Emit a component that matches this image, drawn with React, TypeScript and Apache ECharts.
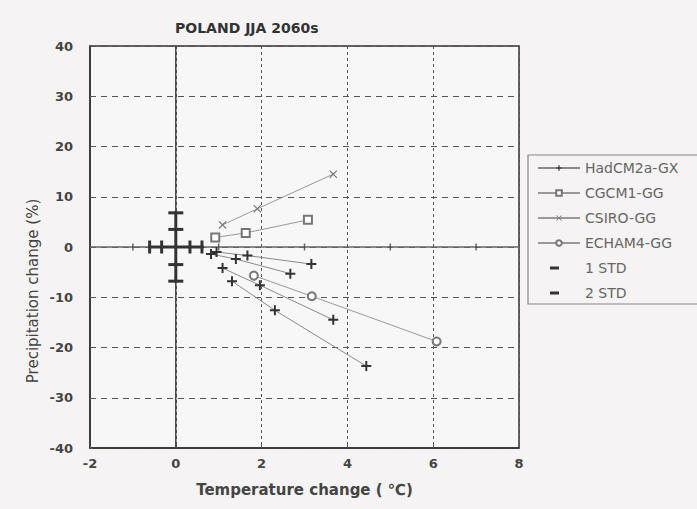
import React, { useEffect, useRef } from "react";
import * as echarts from "echarts";

const titleText = "POLAND JJA 2060s";
const xRange = [-2, 8];
const yRange = [-40, 40];
const xInterval = 2;
const yInterval = 10;
const xMinorTicks = [-1, 1, 3, 5, 7];

// HadCM2 ensemble lines (low, mid, high sensitivity)
const hadA = [[0.95, -1.0], [1.67, -1.7], [3.16, -3.4]];
const hadB = [[0.82, -1.4], [1.4, -2.4], [2.67, -5.3]];
const hadC = [[1.09, -4.2], [1.96, -7.6], [3.67, -14.5]];
const hadD = [[1.31, -6.8], [2.31, -12.6], [4.44, -23.7]];
const cgcm1 = [[0.92, 1.9], [1.63, 2.8], [3.08, 5.4]];
const csiro = [[1.09, 4.4], [1.9, 7.6], [3.67, 14.5]];
const echam4 = [[1.82, -5.7], [3.17, -9.8], [6.08, -18.8]];

// natural variability (temperature, precipitation)
const stdTemp = [0.33, 0.61];
const stdPrecip = [3.5, 6.8];

const seriesNames = ["HadCM2a-GX", "CGCM1-GG", "CSIRO-GG", "ECHAM4-GG", "1 STD", "2 STD"];

const plusPath = "path://M4,0H6V4H10V6H6V10H4V6H0V4H4Z";
const crossPath = "path://M0,1L1,0L5,4L9,0L10,1L6,5L10,9L9,10L5,6L1,10L0,9L4,5Z";
const dashIcon = "path://M0,0M42,7M12,2H21V5H12Z";

export default function App() {
  const ref = useRef<HTMLDivElement>(null);
  useEffect(() => {
    if (!ref.current) return;
    const chart = echarts.init(ref.current, null, { renderer: "svg" });
    const font = "'DejaVu Sans', Arial, sans-serif";

    const hadSeries = [hadA, hadB, hadC, hadD].map((d) => ({
      name: seriesNames[0],
      type: "line",
      data: d,
      symbol: plusPath,
      symbolSize: 10,
      itemStyle: { color: "#333" },
      lineStyle: { color: "#8a8a8a", width: 1 },
      z: 5,
    }));

    const renderStd = (params: any, api: any) => {
      const cx = api.value(0), cy = api.value(1), dx = api.value(2), dy = api.value(3), full = api.value(4);
      const l = api.coord([cx - dx, cy]);
      const r = api.coord([cx + dx, cy]);
      const t = api.coord([cx, cy + dy]);
      const b = api.coord([cx, cy - dy]);
      const st = { stroke: "#333", lineWidth: 3 };
      const children: any[] = [];
      if (full) {
        children.push({ type: "line", shape: { x1: l[0] - 1.5, y1: l[1], x2: r[0] + 1.5, y2: r[1] }, style: st });
        children.push({ type: "line", shape: { x1: t[0], y1: t[1] - 1.5, x2: b[0], y2: b[1] + 1.5 }, style: st });
      }
      [l, r].forEach((p) => children.push({ type: "line", shape: { x1: p[0], y1: p[1] - 6.5, x2: p[0], y2: p[1] + 6.5 }, style: st }));
      [t, b].forEach((p) => children.push({ type: "line", shape: { x1: p[0] - 7.5, y1: p[1], x2: p[0] + 7.5, y2: p[1] }, style: st }));
      return { type: "group", children };
    };

    chart.setOption({
      animation: false,
      backgroundColor: "#f5f3f3",
      title: {
        text: titleText,
        left: 170,
        top: 16,
        textStyle: { fontSize: 14, fontWeight: "bold", color: "#333", fontFamily: font },
      },
      grid: {
        left: 90,
        right: 178,
        top: 46,
        bottom: 61,
        show: true,
        borderColor: "#333",
        borderWidth: 1.5,
        backgroundColor: "#f8f7f7",
      },
      legend: {
        orient: "vertical",
        left: 532,
        top: 156,
        itemWidth: 42,
        itemHeight: 7,
        itemGap: 11,
        selectedMode: false,
        textStyle: { fontSize: 14, color: "#666", fontFamily: font },
        data: [
          { name: seriesNames[0] },
          { name: seriesNames[1] },
          { name: seriesNames[2] },
          { name: seriesNames[3] },
          { name: seriesNames[4], icon: dashIcon },
          { name: seriesNames[5], icon: dashIcon },
        ],
      },
      graphic: [
        {
          type: "rect",
          shape: { x: 528, y: 155, width: 200, height: 149 },
          style: { fill: "none", stroke: "#888", lineWidth: 1.2 },
          z: 0,
        },
        {
          type: "text",
          x: 33,
          y: 291,
          rotation: Math.PI / 2,
          style: {
            text: "Precipitation change (%)",
            fontSize: 15,
            fontFamily: font,
            fill: "#444",
            textAlign: "center",
            textVerticalAlign: "middle",
            align: "center",
            verticalAlign: "middle",
          },
        },
      ],
      xAxis: {
        type: "value",
        min: xRange[0],
        max: xRange[1],
        interval: xInterval,
        name: "Temperature change ( \u2103)",
        nameLocation: "middle",
        nameGap: 34,
        nameTextStyle: { fontSize: 15, fontWeight: "bold", color: "#444", fontFamily: font },
        axisLine: { onZero: false, lineStyle: { color: "#333", width: 1.5 } },
        axisTick: { inside: true, length: 3, lineStyle: { color: "#555" } },
        axisLabel: { margin: 9, fontSize: 13, fontWeight: "bold", color: "#444", fontFamily: font },
        splitLine: { show: true, lineStyle: { type: [3, 3], color: "#555", width: 1 } },
      },
      yAxis: {
        type: "value",
        min: yRange[0],
        max: yRange[1],
        interval: yInterval,
        axisLine: { onZero: false, lineStyle: { color: "#333", width: 1.5 } },
        axisTick: { inside: true, length: 3, lineStyle: { color: "#555" } },
        axisLabel: { margin: 17, fontSize: 13, fontWeight: "bold", color: "#444", fontFamily: font },
        splitLine: { show: true, lineStyle: { type: [6, 5], color: "#555", width: 1 } },
      },
      series: [
        {
          type: "line",
          data: [[xRange[0], 0], [xRange[1], 0]],
          symbol: "none",
          lineStyle: { color: "#666", width: 1.4 },
          silent: true,
          z: 1,
        },
        {
          type: "line",
          data: [[0, yRange[0]], [0, yRange[1]]],
          symbol: "none",
          lineStyle: { color: "#444", width: 1.5 },
          silent: true,
          z: 1,
        },
        {
          type: "scatter",
          data: xMinorTicks.map((x) => [x, 0]),
          symbol: "rect",
          symbolSize: [1.5, 7],
          itemStyle: { color: "#444" },
          silent: true,
          z: 1,
        },
        ...hadSeries,
        {
          name: seriesNames[1],
          type: "line",
          data: cgcm1,
          symbol: "emptyRect",
          symbolSize: 8,
          itemStyle: { color: "#777", borderWidth: 1.2 },
          lineStyle: { color: "#999", width: 1 },
          z: 4,
        },
        {
          name: seriesNames[2],
          type: "line",
          data: csiro,
          symbol: crossPath,
          symbolSize: 8,
          itemStyle: { color: "#777" },
          lineStyle: { color: "#999", width: 1 },
          z: 4,
        },
        {
          name: seriesNames[3],
          type: "line",
          data: echam4,
          symbol: "emptyCircle",
          symbolSize: 8,
          itemStyle: { color: "#777", borderWidth: 1.2 },
          lineStyle: { color: "#999", width: 1 },
          z: 4,
        },
        {
          name: seriesNames[4],
          type: "custom",
          renderItem: renderStd,
          data: [[0, 0, stdTemp[0], stdPrecip[0], 0]],
          itemStyle: { color: "#333" },
          z: 6,
        },
        {
          name: seriesNames[5],
          type: "custom",
          renderItem: renderStd,
          data: [[0, 0, stdTemp[1], stdPrecip[1], 1]],
          itemStyle: { color: "#333" },
          z: 6,
        },
      ],
    });
    return () => chart.dispose();
  }, []);
  return (
    <div
      ref={ref}
      style={{ position: "fixed", left: 0, top: 0, width: 697, height: 509 }}
    />
  );
}
